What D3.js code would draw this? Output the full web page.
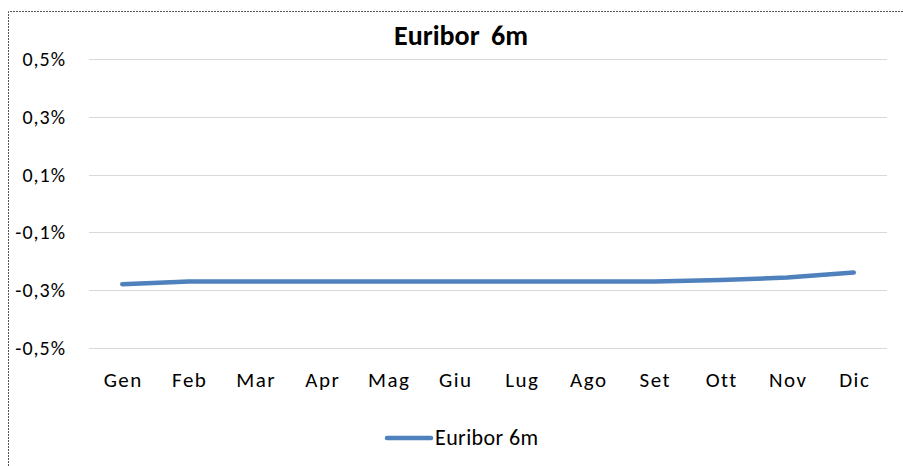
<!DOCTYPE html>
<head>
  <meta charset="utf-8">
  <script src="https://d3js.org/d3.v7.min.js"></script>
  <style>
    body { margin:0; background:#fff; }
    text { font-family: Carlito, Calibri, Lato, sans-serif; fill:#000; }
  </style>
</head>
<body>
<script>
const months = ["Gen","Feb","Mar","Apr","Mag","Giu","Lug","Ago","Set","Ott","Nov","Dic"];
const euribor6m = [-0.279, -0.270, -0.270, -0.270, -0.270, -0.270, -0.270, -0.270, -0.270, -0.265, -0.256, -0.239];
const yTicks = [-0.5, -0.3, -0.1, 0.1, 0.3, 0.5];
const seriesName = "Euribor 6m";

const width = 903, height = 466;
const blue = "#4F81BD";

const svg = d3.select("body").append("svg")
    .attr("width", width)
    .attr("height", height);

// dotted chart border (only top and left edges fall inside the picture)
svg.append("path")
    .attr("d", "M8.5," + height + "V11.5H" + width)
    .attr("fill", "none")
    .attr("stroke", "#555")
    .attr("stroke-width", 1)
    .attr("stroke-dasharray", "2,1");

const x = d3.scaleBand().domain(months).range([89, 887]);
const y = d3.scaleLinear().domain([-0.5, 0.5]).range([348, 59]);

// gridlines
svg.append("g").selectAll("line")
    .data(yTicks)
    .enter().append("line")
    .attr("x1", 89).attr("x2", 887)
    .attr("y1", d => Math.round(y(d)) + 0.5)
    .attr("y2", d => Math.round(y(d)) + 0.5)
    .attr("stroke", "#d9d9d9")
    .attr("stroke-width", 1);

// y labels (plain hyphen for minus, comma decimal)
const fmt = d => d.toFixed(1).replace(".", ",") + "%";
svg.append("g").selectAll("text")
    .data(yTicks)
    .enter().append("text")
    .attr("x", 66)
    .attr("y", d => y(d))
    .attr("dy", "0.35em")
    .attr("text-anchor", "end")
    .style("font-size", "20px")
    .style("letter-spacing", "1px")
    .text(fmt);

// x labels
svg.append("g").selectAll("text")
    .data(months)
    .enter().append("text")
    .attr("x", d => x(d) + x.bandwidth() / 2 + 1)
    .attr("y", 387)
    .attr("text-anchor", "middle")
    .style("font-size", "21px")
    .style("letter-spacing", "1.5px")
    .text(d => d);

// series line
const line = d3.line()
    .x((d, i) => x(months[i]) + x.bandwidth() / 2)
    .y(d => y(d));

svg.append("path")
    .datum(euribor6m)
    .attr("d", line)
    .attr("fill", "none")
    .attr("stroke", blue)
    .attr("stroke-width", 4.5)
    .attr("stroke-linecap", "round")
    .attr("stroke-linejoin", "round");

// title
svg.append("text")
    .attr("x", 461)
    .attr("y", 45)
    .attr("text-anchor", "middle")
    .style("font-size", "28px")
    .style("font-weight", "bold")
    .style("word-spacing", "5px")
    .text(seriesName);

// legend
svg.append("line")
    .attr("x1", 387).attr("x2", 431)
    .attr("y1", 438).attr("y2", 438)
    .attr("stroke", blue)
    .attr("stroke-width", 4.5)
    .attr("stroke-linecap", "round");

svg.append("text")
    .attr("x", 435)
    .attr("y", 445)
    .style("font-size", "22px")
    .style("letter-spacing", "0.4px")
    .text(seriesName);
</script>
</body>
